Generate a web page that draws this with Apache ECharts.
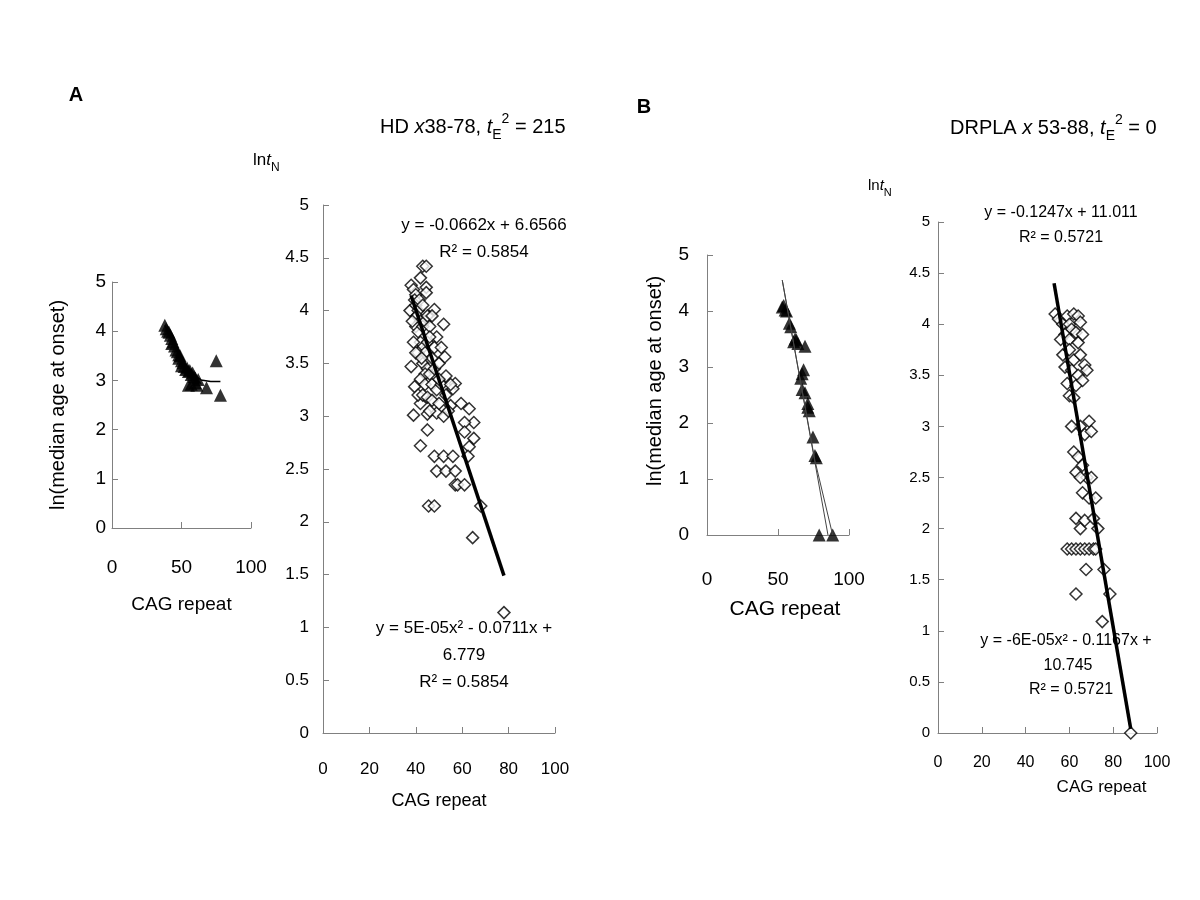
<!DOCTYPE html>
<html>
<head>
<meta charset="utf-8">
<script src="https://cdn.jsdelivr.net/npm/echarts@6/dist/echarts.min.js"></script>
<style>html,body{margin:0;padding:0;background:#fff;}#chart{width:1200px;height:900px;}</style>
</head>
<body>
<div id="chart"></div>
<script>
// ---- Data ----
// Panel A (HD) small inset: median ln(age at onset) vs CAG repeat (triangles)
const hdSmallPoints = [[38,4.12],[39,4.05],[40,4.0],[41,3.98],[42,3.92],[43,3.85],[43,3.75],[44,3.78],[45,3.7],[46,3.62],[47,3.58],[48,3.52],[48,3.45],[49,3.5],[50,3.4],[50,3.3],[51,3.36],[52,3.28],[53,3.22],[54,3.25],[55,3.18],[56,3.2],[57,3.12],[58,3.15],[59,3.08],[60,3.05],[62,3.02],[55,2.9],[57,2.92],[60,2.95],[61,2.9],[68,2.85],[75,3.4],[78,2.7]];
const hdSmallTrend = [[38,4.12],[45,3.7],[52,3.36],[58,3.13],[64,3.01],[71,2.98],[78,2.98]];
// Panel A (HD) large: ln tN vs CAG repeat (diamonds)
const hdLargePoints = [[43,4.42],[44.5,4.42],[42,4.31],[38,4.24],[39,4.2],[40,4.15],[39.5,4.1],[44.5,4.22],[44.5,4.17],[48,4.01],[52,3.87],[37.5,4.0],[49,3.75],[38,3.47],[52.5,3.56],[53,3.38],[57,3.31],[56,3.26],[39.5,3.28],[42,3.12],[59.5,3.12],[63,3.07],[39,3.01],[45,3.02],[49,3.03],[65,2.94],[61,2.94],[45,2.87],[61,2.85],[65,2.79],[42,2.72],[63,2.71],[62.5,2.62],[48,2.62],[52,2.62],[56,2.62],[49,2.48],[53,2.48],[57,2.48],[57,2.35],[58,2.35],[61,2.35],[45.5,2.15],[48,2.15],[68,2.15],[64.5,1.85],[78,1.14],
  [40,4.05],[41,4.0],[40.5,3.95],[42,3.9],[40,3.85],[41,3.8],[43,3.85],[44,3.9],[45,3.95],[46,3.85],[42,3.7],[43,3.65],[41,3.6],[44,3.6],[45,3.7],[46,3.75],[47,3.55],[43,3.5],[45,3.45],[44,3.4],[46,3.4],[48,3.45],[50,3.5],[42,3.35],[44,3.3],[47,3.3],[49,3.25],[51,3.3],[41,3.2],[43,3.2],[45,3.18],[47,3.15],[50,3.12],[53,3.2],[55,3.1],[46,3.05],[52,3.0],[54,3.05],[40,3.6],[38.5,3.9],[39,3.7],[41.5,4.1],[43,4.05],[42.5,3.55],[47,3.95],[48,3.65],[50,3.35],[55,3.3],[51,3.65]];
const hdLargeFit = [[38,4.14],[78,1.49]];
// Panel B (DRPLA) small inset (triangles)
const drSmallPoints = [[53,4.07],[54,4.1],[55,4.02],[56,4.0],[58,3.78],[59,3.72],[61,3.45],[62,3.5],[63,3.48],[64,3.42],[69,3.37],[67,2.88],[68,2.95],[66,2.8],[67,2.6],[69,2.54],[71,2.35],[72,2.22],[71,2.28],[74.6,1.75],[76,1.42],[77,1.38],[79,0],[88.5,0]];
const drSmallTrend1 = [[53,4.55],[85.2,0]];
const drSmallTrend2 = [[53,4.55],[65,2.86],[76,1.33],[88.5,0]];
// Panel B (DRPLA) large (diamonds)
const drLargePoints = [[53.5,4.1],[55,4.05],[57,4.0],[59,4.08],[60,4.0],[62,4.1],[64,4.08],[65,4.02],[61,3.95],[63,3.92],[58,3.9],[56,3.85],[60,3.85],[64,3.82],[66,3.9],[57,3.7],[60,3.75],[62,3.65],[65,3.7],[67,3.6],[58,3.58],[61,3.55],[64,3.5],[68,3.55],[59,3.42],[63,3.4],[66,3.45],[60,3.3],[62,3.28],[65,3.0],[61,3.0],[69,3.05],[67,2.92],[70,2.95],[62,2.75],[64,2.7],[66,2.62],[63,2.55],[68,2.5],[65,2.5],[70,2.5],[66,2.35],[69,2.3],[72,2.3],[63,2.1],[65,2.0],[67,2.08],[71,2.1],[73,2.0],[59,1.8],[61,1.8],[63,1.8],[65,1.8],[67,1.8],[69,1.8],[71,1.8],[72,1.8],[67.6,1.6],[75.8,1.6],[63,1.36],[78.5,1.36],[75,1.09],[88,0]];
const drLargeFit = [[53,4.4],[88,0.04]];
// Tick settings
const xTicksSmall = {min:0, max:100, interval:50};
const xTicksLarge = {min:0, max:100, interval:20};
const yTicksSmall = {min:0, max:5, interval:1};
const yTicksLarge = {min:0, max:5, interval:0.5};
const yNameText = 'ln(median age at onset)';
const xNameText = 'CAG repeat';

const FONT = "'Liberation Sans', Arial, sans-serif";
const axisLine = {show:true, lineStyle:{color:'#808080', width:1}};
const axisTick = {show:true, inside:true, length:6, lineStyle:{color:'#808080'}};

function xAx(idx, t, fs, margin, gap, nfs, pad) {
  return Object.assign({type:'value', gridIndex:idx, splitLine:{show:false}, axisLine, axisTick,
    axisLabel:{fontSize:fs, margin, color:'#000', fontFamily:FONT},
    name:xNameText, nameLocation:'middle', nameGap:gap,
    nameTextStyle:{fontSize:nfs, color:'#000', fontFamily:FONT, padding:pad||0}}, t);
}
function yAx(idx, t, fs, margin) {
  return Object.assign({type:'value', gridIndex:idx, splitLine:{show:false}, axisLine, axisTick,
    axisLabel:{fontSize:fs, margin, color:'#000', fontFamily:FONT}}, t);
}

const tri = {type:'scatter', symbol:'triangle', symbolSize:13, itemStyle:{color:'#000'}};
const dia = {type:'scatter', symbol:'diamond', symbolSize:12, itemStyle:{color:'#fff', borderColor:'#000', borderWidth:1.5}};

function txt(x, y, text, fs, opts) {
  opts = opts || {};
  return {type:'text', x, y, rotation:opts.rotation||0,
    style:{text, font:(opts.bold?'bold ':'')+fs+'px '+FONT, fill:'#000', align:'center', verticalAlign:'middle'}};
}
function rich(x, y, text, fs) {
  const s = Math.round(fs*0.7);
  return {type:'text', x, y, style:{text, fill:'#000', align:'left', verticalAlign:'middle', font:fs+'px '+FONT,
    rich:{
      a:{fontSize:fs, fontFamily:FONT, lineHeight:fs+10, verticalAlign:'middle'},
      i:{fontSize:fs, fontFamily:FONT, fontStyle:'italic', lineHeight:fs+10, verticalAlign:'middle'},
      sub:{fontSize:s, fontFamily:FONT, verticalAlign:'bottom', lineHeight:s},
      sup:{fontSize:s, fontFamily:FONT, verticalAlign:'top', lineHeight:s}
    }}};
}

const option = {
  animation:false,
  backgroundColor:'#fff',
  grid:[
    {left:112, top:282, width:139, height:246},
    {left:323, top:205, width:232, height:528},
    {left:707, top:255, width:142, height:280},
    {left:938, top:222, width:219, height:511}
  ],
  xAxis:[
    xAx(0, xTicksSmall, 19, 30, 67, 19),
    xAx(1, xTicksLarge, 17, 28, 59, 18),
    xAx(2, xTicksSmall, 19, 35, 64, 21, [0,0,0,14]),
    xAx(3, xTicksLarge, 16, 22, 46, 17, [0,0,0,108])
  ],
  yAxis:[
    yAx(0, yTicksSmall, 19, 6),
    yAx(1, yTicksLarge, 17, 14),
    yAx(2, yTicksSmall, 19, 18),
    yAx(3, yTicksLarge, 15, 8)
  ],
  series:[
    {type:'line', xAxisIndex:0, yAxisIndex:0, data:hdSmallTrend, symbol:'none', lineStyle:{color:'#000', width:1.5}},
    Object.assign({}, tri, {xAxisIndex:0, yAxisIndex:0, data:hdSmallPoints}),
    Object.assign({}, dia, {xAxisIndex:1, yAxisIndex:1, data:hdLargePoints}),
    {type:'line', xAxisIndex:1, yAxisIndex:1, data:hdLargeFit, symbol:'none', lineStyle:{color:'#000', width:3.5}},
    {type:'line', xAxisIndex:2, yAxisIndex:2, data:drSmallTrend1, symbol:'none', lineStyle:{color:'#444', width:1}},
    {type:'line', xAxisIndex:2, yAxisIndex:2, data:drSmallTrend2, symbol:'none', lineStyle:{color:'#444', width:1}},
    Object.assign({}, tri, {xAxisIndex:2, yAxisIndex:2, data:drSmallPoints}),
    Object.assign({}, dia, {xAxisIndex:3, yAxisIndex:3, data:drLargePoints}),
    {type:'line', xAxisIndex:3, yAxisIndex:3, data:drLargeFit, symbol:'none', lineStyle:{color:'#000', width:3.5}}
  ],
  graphic:[
    txt(76, 95, 'A', 20, {bold:true}),
    txt(644, 107, 'B', 20, {bold:true}),
    txt(58, 405, yNameText, 20, {rotation:Math.PI/2}),
    txt(655, 381, yNameText, 20, {rotation:Math.PI/2}),
    rich(380, 127, '{a|HD }{i|x}{a|38-78, }{i|t}{sub|E}{sup|2}{a| = 215}', 20),
    rich(950, 128, '{a|DRPLA }{i|x}{a| 53-88, }{i|t}{sub|E}{sup|2}{a| = 0}', 20),
    rich(253, 160, '{a|ln}{i|t}{sub|N}', 17),
    rich(868, 186, '{a|ln}{i|t}{sub|N}', 15),
    txt(484, 225, 'y = -0.0662x + 6.6566', 17),
    txt(484, 252, 'R² = 0.5854', 17),
    txt(464, 628, 'y = 5E-05x² - 0.0711x +', 17),
    txt(464, 655, '6.779', 17),
    txt(464, 682, 'R² = 0.5854', 17),
    txt(1061, 213, 'y = -0.1247x + 11.011', 16),
    txt(1061, 238, 'R² = 0.5721', 16),
    txt(1066, 641, 'y = -6E-05x² - 0.1167x +', 16),
    txt(1068, 666, '10.745', 16),
    txt(1071, 690, 'R² = 0.5721', 16)
  ]
};
const chart = echarts.init(document.getElementById('chart'), null, {renderer:'canvas'});
chart.setOption(option);
</script>
</body>
</html>
